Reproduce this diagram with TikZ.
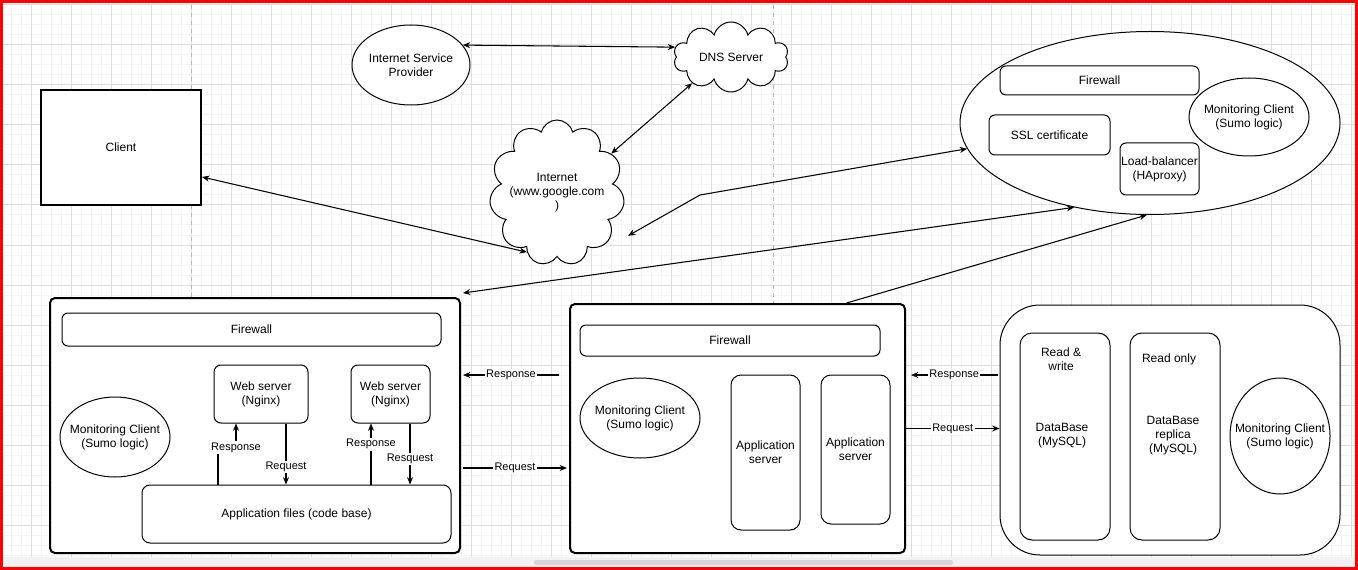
\documentclass[tikz,border=0pt]{standalone}
\usepackage{fontspec}
\setmainfont{Liberation Sans}
\usetikzlibrary{shapes.geometric,shapes.symbols,calc,arrows.meta}
\definecolor{gridminor}{HTML}{F4F4F4}
\definecolor{gridmajor}{HTML}{DEDEDE}
\definecolor{pageline}{HTML}{B4B4B4}
\definecolor{strip}{HTML}{F2F2F2}
\definecolor{scroll}{HTML}{D8D8D8}

\begin{document}
\begin{tikzpicture}[x=0.75pt, y=-0.75pt, font=\fontsize{9}{10.5}\selectfont]
        \tikzstyle{line} = [->,>={Stealth[length=5.5pt,width=4.5pt]}, line width=0.8pt]
        \tikzstyle{both} = [<->,>={Stealth[length=5.5pt,width=4.5pt]}, line width=0.8pt]
        \tikzstyle{rec} = [rectangle, draw=black, fill=white, rounded corners=4.5pt, align=center, line width=0.75pt]
        \tikzstyle{frame} = [rec, line width=1.5pt, rounded corners=3.75pt]
        \tikzstyle{oval} = [ellipse, draw=black, fill=white, align=center, line width=0.75pt, inner xsep=-8pt, inner ysep=0pt]
        \tikzstyle{puff} = [cloud, cloud puffs=10, draw=black, fill=white, align=center, line width=0.75pt, inner xsep=-10pt, inner ysep=-4pt]
        \tikzstyle{txt} = [align=center, inner sep=1pt]
        \tikzstyle{lbl} = [fill=white, inner sep=1pt, font=\fontsize{8.25}{9}\selectfont]

        \useasboundingbox (0,0) rectangle (1358,570);
        \fill[white] (0,0) rectangle (1358,570);
        \fill[strip] (0,557) rectangle (1358,568);
        \fill[scroll, rounded corners=1.5pt] (534,560) rectangle (953,565);
        \foreach \gx in {1,11,...,1351} \draw[gridminor, line width=0.75pt] (\gx,5) -- (\gx,557);
        \foreach \gy in {5,15,...,555} \draw[gridminor, line width=0.75pt] (0,\gy) -- (1358,\gy);
        \foreach \gx in {31,71,...,1351} \draw[gridmajor, line width=0.75pt] (\gx,5) -- (\gx,557);
        \foreach \gy in {45,85,...,525} \draw[gridmajor, line width=0.75pt] (0,\gy) -- (1358,\gy);
        \draw[gridmajor, line width=0.75pt] (0,4.5) -- (1358,4.5);
        \draw[pageline, line width=0.75pt, dash pattern=on 3pt off 3pt] (191,5) -- (191,557);
        \draw[pageline, line width=0.75pt, dash pattern=on 3pt off 3pt] (773,5) -- (773,557);

        \node(client) [rec, sharp corners, line width=1.5pt, minimum width=120pt, minimum height=86.25pt] at (121,147.5) {Client};
        \node(isp) [oval, minimum width=88.5pt, minimum height=60pt] at (411,65) {Internet Service\\Provider};
        \node(dns) [puff, minimum width=86.25pt, minimum height=52.5pt] at (731,57) {DNS Server};
        \node(inet) [puff, cloud puffs=11, minimum width=101.25pt, minimum height=109.5pt] at (557,193) {Internet\\(www.google.com\\)};

        \node(lbzone) [oval, minimum width=285pt, minimum height=137.25pt] at (1150,123) {};
        \node(lbfw) [rec, minimum width=149.25pt, minimum height=21.75pt] at (1099.5,80.5) {Firewall};
        \node(lbmon) [oval, minimum width=90pt, minimum height=58.5pt] at (1249,117) {Monitoring Client\\(Sumo logic)};
        \node(ssl) [rec, minimum width=90.75pt, minimum height=30pt] at (1049.5,135) {SSL certificate};
        \node(lb) [rec, inner xsep=0pt, minimum width=59.25pt, minimum height=39pt] at (1159.5,169) {Load-balancer\\(HAproxy)};

        \node(webbox) [frame, minimum width=307.5pt, minimum height=191.25pt] at (255,425.5) {};
        \node(webfw) [rec, minimum width=284.25pt, minimum height=24.75pt] at (251.5,329.5) {Firewall};
        \node(websrva) [rec, rounded corners=5.25pt, minimum width=70.5pt, minimum height=43.5pt] at (261,394) {Web server\\(Nginx)};
        \node(websrvb) [rec, rounded corners=5.25pt, minimum width=59.25pt, minimum height=43.5pt] at (390.5,394) {Web server\\(Nginx)};
        \node(webmon) [oval, minimum width=82.5pt, minimum height=60pt] at (115,437) {Monitoring Client\\(Sumo logic)};
        \node(appfiles) [rec, rounded corners=6pt, minimum width=231.75pt, minimum height=43.5pt] at (296.5,514) {Application files (code base)};

        \node(appbox) [frame, minimum width=251.25pt, minimum height=186.75pt] at (737.5,428.5) {};
        \node(appfw) [rec, minimum width=225pt, minimum height=23.25pt] at (730,340.5) {Firewall};
        \node(appmon) [oval, minimum width=90pt, minimum height=60pt] at (640,418) {Monitoring Client\\(Sumo logic)};
        \node(appsrva) [rec, rounded corners=7.5pt, inner xsep=0pt, minimum width=51.75pt, minimum height=116.25pt] at (765.5,452.5) {Application\\server};
        \node(appsrvb) [rec, rounded corners=7.5pt, inner xsep=0pt, minimum width=51.75pt, minimum height=111.75pt] at (855.5,449.5) {Application\\server};

        \node(dbbox) [rec, rounded corners=30pt, minimum width=255pt, minimum height=187.5pt] at (1170,430) {};
        \node(dbrw) [rec, rounded corners=9pt, minimum width=67.5pt, minimum height=155.25pt] at (1065,436.5) {};
        \node(dbro) [rec, rounded corners=9pt, minimum width=67.5pt, minimum height=155.25pt] at (1175,436.5) {};
        \node(dbrwtop) [txt] at (1061,359) {Read \&\\write};
        \node(dbrwtxt) [txt] at (1062,436) {DataBase\\(MySQL)};
        \node(dbrotop) [txt] at (1169,359) {Read only};
        \node(dbrotxt) [txt] at (1173,436) {DataBase\\replica\\(MySQL)};
        \node(dbmon) [oval, minimum width=75pt, minimum height=87pt] at (1280,436) {Monitoring Client\\(Sumo logic)};

        \coordinate (bend) at (700,195);
        \draw[both] (isp.21) -- (dns.170);
        \draw[both] (dns.214) -- (inet.36);
        \draw[both] (client.-20) -- (inet.243);
        \draw[both] ([shift={(12pt,-5.25pt)}]inet.-33) -- (bend) -- (lbzone.188);
        \draw[both] ([shift={(1.5pt,3pt)}]webbox.north east) -- (lbzone.228);
        \draw[line] (appbox.49) -- (lbzone.268);

        \draw[line] ([xshift=-32.25pt]websrva.south |- appfiles.north) -- ++(0,-31) -| node[lbl, pos=0.6] {Response} ([xshift=-18.75pt]websrva.south);
        \draw[line] ([xshift=18.75pt]websrva.south) -- node[lbl, pos=0.71] {Request} ([xshift=18.75pt]websrva.south |- appfiles.north);
        \draw[line] ([xshift=-14.625pt]websrvb.south |- appfiles.north) -- node[lbl, pos=0.66] {Response} ([xshift=-14.625pt]websrvb.south);
        \draw[line] ([xshift=14.625pt]websrvb.south) -- node[lbl, pos=0.58] {Resquest} ([xshift=14.625pt]websrvb.south |- appfiles.north);

        \draw[line] ([shift={(-7.5pt,40.125pt)}]appbox.west) -- node[lbl] {Response} ([shift={(1.5pt,37.875pt)}]webbox.east);
        \draw[line] ([shift={(1.5pt,-31.875pt)}]webbox.east) -- node[lbl] {Request} ([shift={(-1.5pt,-29.625pt)}]appbox.west);
        \draw[line] ([shift={(-1.5pt,41.25pt)}]dbbox.west) -- node[lbl] {Response} ([shift={(3.75pt,40.125pt)}]appbox.east);
        \draw[line] (appbox.east) -- node[lbl] {Request} (appbox.east -| dbbox.west);

        \draw[red, line width=2.25pt] (1.5,1.5) rectangle (1356.5,568.5);
    \end{tikzpicture}
\end{document}
